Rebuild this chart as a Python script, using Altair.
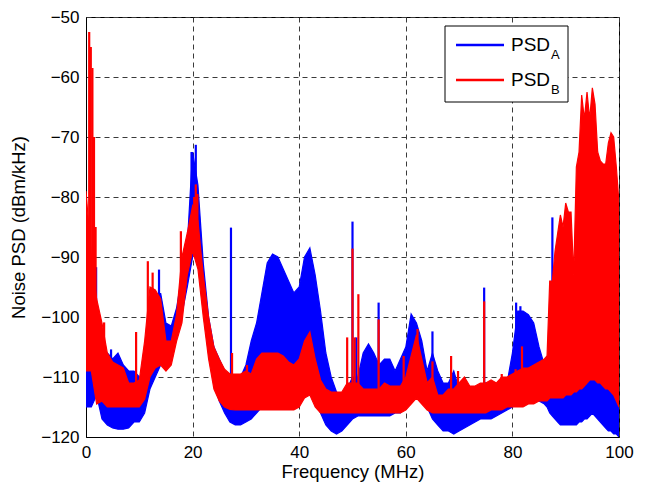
import altair as alt
import pandas as pd

# ---------------- data ----------------
# frequency grid (MHz): 1 MHz steps to 85, then 0.5 MHz steps to 100
freq = list(range(0, 86)) + [86 + 0.5 * i for i in range(29)]

# PSD_A (blue) upper / lower envelope, dBm/kHz
a_hi = [-102, -104, -104, -107, -106, -107, -106, -108, -109, -109,
        -110, -110, -108, -103, -96, -101, -101.5, -98.5, -93, -88,
        -72.5, -78, -91, -100, -105, -107, -109, -110, -110.5, -110,
        -108, -104, -101, -96, -91, -89.5, -90, -92, -94, -96,
        -95, -90, -88.5, -93, -99, -106, -110, -112.5, -113, -112,
        -110, -110, -106, -104.5, -106, -108, -107, -107, -109, -107,
        -105, -99.5, -101, -104, -109, -106, -109, -111, -111, -109,
        -112, -112, -113, -113, -112, -111, -112, -112, -112, -111,
        -106, -99, -99, -99.6, -101, -105,
        -108, -106.5, -109, -110, -110, -111, -111, -111, -111, -111,
        -111, -111, -111, -110.5, -110, -109, -108, -107, -106, -107,
        -108, -108, -109, -109, -109, -108, -108, -104, -100]
a_lo = [-115, -115, -113, -117, -118, -118.5, -118.7, -118.7, -118.5, -117.5,
        -117.5, -116, -112, -110, -108, -104.5, -104, -102, -99.5, -95,
        -90, -88, -97, -106, -111, -114, -116, -117.5, -118, -118,
        -117.5, -117, -116, -115, -114, -114, -114, -114, -114, -114,
        -113, -111, -112, -114, -116, -118, -119, -119.5, -119, -118,
        -117, -116.5, -116.5, -116.5, -116.5, -116.5, -116.5, -116.5, -116, -116,
        -114, -111, -109, -112, -115, -117, -118, -119, -119, -119.5,
        -119, -118.5, -118, -117.5, -117, -117, -117, -116.5, -116, -115.5,
        -115, -114.5, -114, -114, -114, -114,
        -114.5, -115, -116, -116.5, -117, -117.5, -118, -118, -118, -118,
        -118, -118, -118, -117.5, -117.5, -117, -117, -116.5, -116, -116.5,
        -117, -117.5, -118, -118.5, -119, -119, -119.5, -119.5, -120]

# PSD_B (red) upper / lower envelope
b_hi = [-79, -90, -97, -101, -106, -107.5, -108, -108.5, -111, -111,
        -110.5, -104, -95, -95.5, -97, -104, -104, -99.5, -90, -86,
        -81.5, -84, -93, -100, -105, -107, -108.7, -109.5, -109.5, -109.5,
        -109, -109.5, -107, -106, -106, -106, -106, -106.5, -107.5, -108,
        -107, -104, -102.5, -107, -110.5, -112, -112.5, -112.5, -112.5, -111,
        -111, -111, -112, -112, -112, -112, -111, -111.5, -111.5, -111.5,
        -110, -106.5, -103, -107, -111, -110, -113, -113, -112, -112,
        -111, -110, -111.5, -111.5, -111, -111, -110.5, -111, -110, -110,
        -109.5, -109, -108.5, -108.5, -108, -107.5,
        -107, -106.5, -94, -94, -89, -86, -83, -85, -81, -82.5,
        -82.5, -93, -75, -72.5, -63, -67, -62.5, -67, -61.8, -64.5,
        -72.5, -74, -74.5, -74.5, -71, -69.3, -70, -75, -81]
b_lo = [-109, -109, -114.5, -114, -115, -115, -115, -115, -115, -115,
        -115, -113.7, -110, -108.5, -108, -109, -108, -104, -101, -93,
        -89, -92, -100, -107, -112, -114, -115, -115.4, -115.5, -115.5,
        -115.5, -115.5, -115.5, -115.5, -115.5, -115.5, -115.5, -115.5, -115.5, -115.5,
        -115, -113.5, -113, -115, -116, -116, -116, -116, -116, -116,
        -116, -116, -116, -116, -116, -116, -116, -116, -116, -116,
        -115.5, -114.5, -113.5, -114.5, -115.5, -116, -116, -116, -116, -116,
        -116, -116, -116, -116, -116, -116, -115.5, -115.5, -115.5, -115,
        -115, -115, -115, -114.5, -114.5, -114,
        -114, -114, -113.5, -113.5, -113.5, -113.5, -113.5, -113.5, -113, -113,
        -113, -112.5, -112.5, -112, -112, -111.5, -111, -110.5, -110.5, -110.5,
        -111, -111, -111.5, -112, -112, -112.5, -113, -114, -115]

# narrow spikes: frequency, peak, foot
a_spike_f = [1.9, 4.7, 13.7, 19.8, 20.6, 27.2, 50.0, 50.7, 54.9, 65.0, 74.7, 80.7, 81.5, 87.5]
a_spike_top = [-91.7, -105.4, -92.1, -72.5, -71.3, -85.1, -84.1, -103.4, -97.6, -102.4, -95.1, -97.6, -98.2, -83.4]
a_spike_base = [-106, -112, -100, -85, -85, -112, -112, -112, -112, -112, -112, -110, -110, -110]

b_spike_f = [0.6, 0.9, 1.2, 1.5, 1.8, 3.4, 9.4, 11.6, 12.5, 17.8, 20.3, 20.6, 20.9, 27.4, 30.2,
             49.0, 50.0, 50.4, 51.1, 54.9, 59.6, 62.2, 65.0, 68.5, 69.8, 74.7, 78.0, 80.6, 81.8]
b_spike_top = [-52.5, -55, -58.5, -70, -85, -100.9, -102.5, -90.7, -92.6, -85.7, -80, -77.9, -79.5, -106, -108,
               -103.4, -88.6, -103.4, -96.2, -100.4, -106.5, -102, -107.4, -106.5, -109, -97.4, -109.5, -108.7, -104.9]
b_spike_base = [-100, -100, -100, -100, -100, -110, -112, -105, -105, -100, -90, -90, -90, -112, -112,
                -114, -114, -114, -114, -114, -114, -110, -114, -114, -114, -114, -114, -114, -114]

x_ticks = [0, 20, 40, 60, 80, 100]
y_ticks = [-120, -110, -100, -90, -80, -70, -60, -50]
legend_main = ["PSD", "PSD"]
legend_sub = ["A", "B"]

BLUE = "#0000ff"
RED = "#ff0000"
FONT = "Liberation Sans"

df_a = pd.DataFrame({"f": freq, "hi": a_hi, "lo": a_lo})
df_b = pd.DataFrame({"f": freq, "hi": b_hi, "lo": b_lo})
sp_a = pd.DataFrame({"f": a_spike_f, "hi": a_spike_top, "lo": a_spike_base})
sp_b = pd.DataFrame({"f": b_spike_f, "hi": b_spike_top, "lo": b_spike_base})

xs = alt.Scale(domain=[0, 100], nice=False, zero=False)
ys = alt.Scale(domain=[-120, -50], nice=False, zero=False)

x_axis = alt.Axis(values=x_ticks, title="Frequency (MHz)", grid=True, tickSize=0,
                  labelPadding=7, titlePadding=2, format="d", labelFlush=False)
y_axis = alt.Axis(values=y_ticks, title="Noise PSD (dBm/kHz)", grid=True, tickSize=0,
                  labelPadding=7, titlePadding=12, format="d", labelFlush=False)

X = alt.X("f:Q", scale=xs, axis=x_axis)
Y = alt.Y("hi:Q", scale=ys, axis=y_axis)


def area(df, color):
    return alt.Chart(df).mark_area(color=color, stroke=color, strokeWidth=1.2,
                                   opacity=1, clip=True).encode(x=X, y=Y, y2="lo:Q")


def spikes(df, color):
    return alt.Chart(df).mark_rule(color=color, strokeWidth=2.2, clip=True).encode(
        x=X, y=Y, y2="lo:Q")


one = pd.DataFrame({"k": [0]})
leg_box = alt.Chart(one).mark_rect(fill="white", stroke="black", strokeWidth=1).encode(
    x=alt.value(359), x2=alt.value(482), y=alt.value(9), y2=alt.value(85))
leg_line_a = alt.Chart(one).mark_rule(color=BLUE, strokeWidth=2.5).encode(
    x=alt.value(370), x2=alt.value(418), y=alt.value(28))
leg_line_b = alt.Chart(one).mark_rule(color=RED, strokeWidth=2.5).encode(
    x=alt.value(370), x2=alt.value(418), y=alt.value(63))
leg_txt = []
for i, (m, s) in enumerate(zip(legend_main, legend_sub)):
    base_y = 34 + 35 * i
    leg_txt.append(alt.Chart(one).mark_text(align="left", baseline="alphabetic", fontSize=19,
                                            font=FONT, color="black").encode(
        x=alt.value(425), y=alt.value(base_y), text=alt.value(m)))
    leg_txt.append(alt.Chart(one).mark_text(align="left", baseline="alphabetic", fontSize=13,
                                            font=FONT, color="black").encode(
        x=alt.value(465), y=alt.value(base_y + 8), text=alt.value(s)))

chart = alt.layer(
    area(df_a, BLUE),
    spikes(sp_a, BLUE),
    area(df_b, RED),
    spikes(sp_b, RED),
    leg_box, leg_line_a, leg_line_b, *leg_txt,
).properties(
    width=533, height=420,
    autosize=alt.AutoSizeParams(type="none"),
    padding={"left": 78, "top": 9, "right": 18, "bottom": 50},
).configure_view(
    stroke="black", strokeWidth=1
).configure_axis(
    labelFont=FONT, titleFont=FONT, labelFontSize=17, titleFontSize=18.5,
    labelColor="black", titleColor="black", titleFontWeight="normal",
    domainColor="black", domainWidth=1,
    gridColor="#3a3a3a", gridDash=[5, 4], gridWidth=1, gridOpacity=1,
)

chart.save("out.html", embed_options={"renderer": "svg", "actions": False})
